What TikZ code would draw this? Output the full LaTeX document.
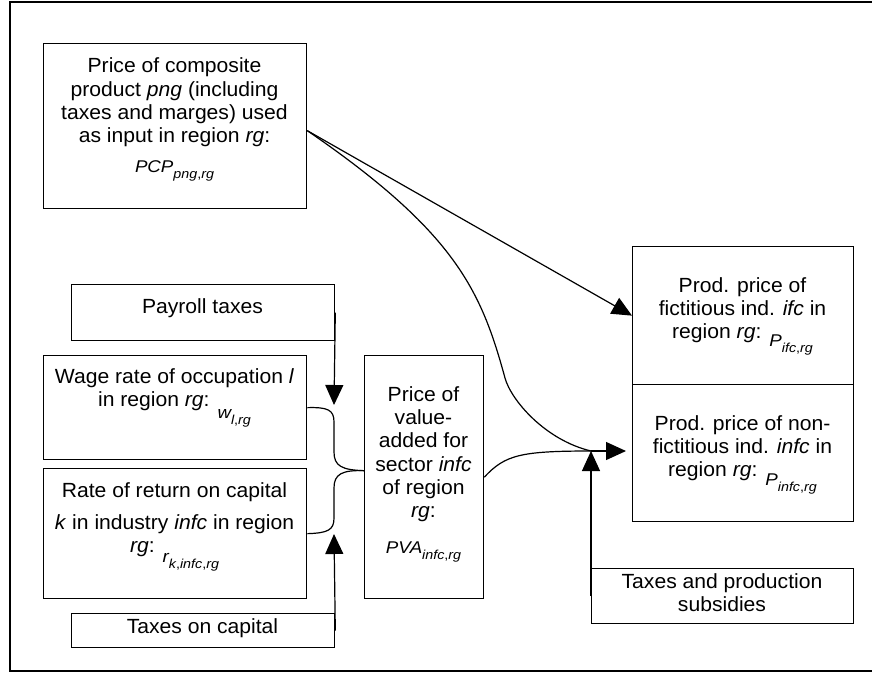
\documentclass[tikz,border=0pt]{standalone}
\usepackage{fontspec}
\setmainfont[FakeStretch=1.03]{Liberation Sans}
\newfontfamily\eqfont[FakeStretch=1.1]{Liberation Sans}
\usetikzlibrary{arrows.meta}

% equation-style symbol with a lowered, smaller subscript
\newcommand{\eqobj}[2]{{\eqfont\fontsize{17}{17}\selectfont\itshape #1\raisebox{-6pt}{\fontsize{13}{13}\selectfont #2}}}
\newcommand{\subcomma}{{\upshape,}}
% fixed first-line height so text blocks can be placed by baseline
\newcommand{\topln}{\rule{0pt}{16pt}}

\begin{document}
\begin{tikzpicture}[x=1pt,y=-1pt,
  box/.style={draw, line width=1.3pt, inner sep=0pt, anchor=north west},
  txt/.style={align=center, inner sep=0pt, anchor=north, font=\fontsize{20.5}{23.3}\selectfont},
  onel/.style={inner sep=0pt, anchor=base, font=\fontsize{20.5}{23.3}\selectfont},
  link/.style={line width=1.2pt},
  arr/.style={link, -{Triangle[length=20pt,width=18pt]}}]

\useasboundingbox (0,0) rectangle (872,673);

% outer frame
\draw[line width=2pt] (872,2) -- (10,2) -- (10,671) -- (872,671);

% boxes
\node[box, minimum width=263pt, minimum height=165pt] (pcp) at (43,43) {};
\node[box, minimum width=263pt, minimum height=56pt] (payroll) at (71,284) {};
\node[box, minimum width=263pt, minimum height=104pt] (wage) at (43,355) {};
\node[box, minimum width=263pt, minimum height=130pt] (rate) at (43,468) {};
\node[box, minimum width=263pt, minimum height=34pt] (taxcap) at (71,613) {};
\node[box, minimum width=119pt, minimum height=243pt] (pva) at (364,355) {};
\node[box, minimum width=221pt, minimum height=138pt] (fic) at (632,246) {};
\node[box, minimum width=221pt, minimum height=137pt] (nonfic) at (632,384) {};
\node[box, minimum width=262pt, minimum height=55pt] (taxprod) at (591,568) {};

% texts
\node[txt] (pcptxt) at (174.5,56.5) {\topln Price of composite\\
  product \textit{png} (including\\
  taxes and marges) used\\
  as input in region \textit{rg}:\\[7pt]
  \eqobj{PCP}{png\subcomma rg}};
\node[onel] (paytxt) at (202.5,313) {Payroll taxes};
\node[txt] (wagetxt) at (174.5,367) {\topln Wage rate of occupation \textit{l}\\
  in region \textit{rg}:\hspace{8pt}\raisebox{-12pt}{\eqobj{w}{l\subcomma rg}}};
\node[txt] (ratetxt) at (174.5,481) {\topln Rate of return on capital\\[9pt]
  \textit{k} in industry \textit{infc} in region\\
  \textit{rg}:\hspace{8pt}\raisebox{-10pt}{\eqobj{r}{k\subcomma infc\subcomma rg}}};
\node[onel] (captxt) at (202.5,633) {Taxes on capital};
\node[txt] (pvatxt) at (423.5,385) {\topln Price of\\ value-\\ added for\\
  sector \textit{infc}\\ of region\\ \textit{rg}:\\[12pt]
  \eqobj{PVA}{infc\subcomma rg}};
\node[txt] (fictxt) at (742.5,276) {\topln Prod. price of\\
  fictitious ind. \textit{ifc} in\\
  region \textit{rg}:\hspace{8pt}\raisebox{-8pt}{\eqobj{P}{ifc\subcomma rg}}};
\node[txt] (nonfictxt) at (742.5,414) {\topln Prod. price of non-\\
  fictitious ind. \textit{infc} in\\
  region \textit{rg}:\hspace{8pt}\raisebox{-9pt}{\eqobj{P}{infc\subcomma rg}}};
\node[txt] (prodtxt) at (722,572) {\topln Taxes and production\\ subsidies};

% connector points
\coordinate (pout) at ([yshift=-4.5pt]pcp.east);
\coordinate (junc) at (591,451);
\coordinate (brace) at ([yshift=6.5pt]pva.west);
\coordinate (paytip) at (334,405);
\coordinate (captip) at (334,534);

% composite price feeding both producer prices
\draw[arr] (pout) -- (fic.west);
\draw[link] (pout) .. controls (455,232) and (481,290) .. (505,378)
  .. controls (511,400) and (545,440) .. (junc);

% value-added price into the junction
\draw[link] (pva.east) .. controls (505,455) and (520,451) .. (junc);
\draw[arr, shorten >=6pt] (junc) -- (junc -| nonfic.west);
\draw[arr] (taxprod.west) -- (junc);

% factor prices bracketed into value added
\draw[link] (wage.east) .. controls (328,407) and (334,410) .. (334,422)
  -- (334,452) .. controls (334,466) and (342,470) .. (brace);
\draw[link] (rate.east) .. controls (328,533) and (334,530) .. (334,518)
  -- (334,488) .. controls (334,474) and (342,470) .. (brace);
\draw[arr] (payroll.east) -- (paytip);
\draw[arr] (taxcap.east) -- (captip);

\end{tikzpicture}
\end{document}
